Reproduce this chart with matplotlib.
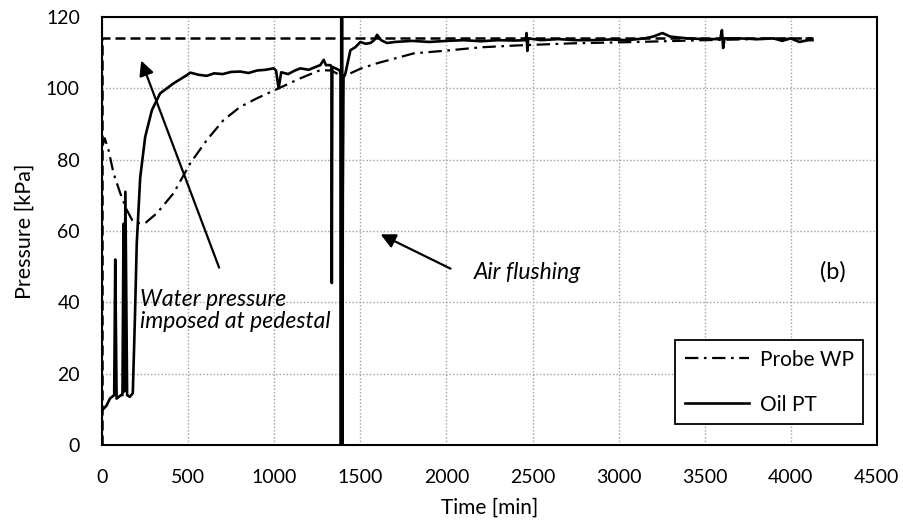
import matplotlib
matplotlib.use("Agg")
import matplotlib.pyplot as plt

plt.rcParams['font.family'] = ['Lato', 'DejaVu Sans']

# Oil pressure transducer (solid line)
oil_t = [5, 25, 45, 70, 76, 84, 110, 118, 124, 128, 135, 145, 160, 178,
         190, 201, 221, 250, 289, 337, 415, 492, 512, 560, 608, 650, 700,
         750, 802, 850, 900, 950, 996, 1010, 1025, 1040, 1080, 1120, 1151,
         1200, 1240, 1267, 1287, 1300, 1326, 1332, 1334, 1337, 1360, 1380,
         1385, 1387, 1389, 1391, 1393, 1395, 1398, 1402, 1412, 1430, 1442,
         1470, 1500, 1530, 1558, 1580, 1597, 1620, 1655, 1700, 1800, 1900,
         2000, 2100, 2200, 2300, 2400, 2460, 2465, 2470, 2475, 2550, 2650,
         2750, 2850, 2950, 3050, 3150, 3200, 3254, 3300, 3400, 3500, 3590,
         3600, 3607, 3615, 3700, 3800, 3900, 3950, 4000, 4050, 4100, 4126]
oil_p = [10, 11, 13, 14, 52, 13, 14, 14, 62, 15, 71, 14, 13.5, 14.5,
         35, 56.5, 75, 86.4, 93.9, 98.6, 101.4, 103.7, 104.4, 103.8, 103.5,
         104.2, 104.0, 104.6, 104.7, 104.3, 105.0, 105.2, 105.6, 105.0, 100,
         104.5, 104.0, 105.0, 105.6, 105.2, 106.0, 106.5, 108, 106.5, 106.5,
         106.0, 45.4, 106.0, 105.5, 105, 104, 0, 130, 0, 130, 0, 70, 103,
         104, 108, 110.7, 111.5, 113, 112.5, 112.7, 113.5, 115, 113.5, 112.7,
         113, 113.3, 113, 113.3, 113.5, 113.2, 113.5, 113.4, 113.5, 115.5,
         110.5, 114, 113.5, 113.8, 113.5, 113.5, 113.7, 113.5, 114, 114.5,
         115.5, 114.5, 114, 113.8, 113.8, 116.3, 111.3, 114, 114, 113.8, 114,
         113.3, 114, 113, 113.5, 113.5]

# Probe water pressure (dash-dot line)
probe_t = [3, 15, 37, 66, 105, 143, 175, 201, 250, 318, 415, 512, 608, 705,
           802, 899, 1025, 1151, 1267, 1330, 1390, 1420, 1500, 1595, 1810,
           1982, 2200, 2400, 2721, 3109, 3500, 3800, 4126]
probe_p = [84, 86, 82.7, 76.2, 70.6, 65.9, 63, 62.2, 62.2, 65, 70.6, 79,
           85.5, 91.1, 94.8, 97.2, 100, 102.8, 105.1, 105, 103.5, 103.7,
           105.5, 107, 109.8, 110.5, 111.5, 112, 112.6, 113, 113.5, 113.8, 114]

# Water pressure imposed at pedestal (dashed line)
imposed_t = [0, 0, 4130]
imposed_p = [0, 114, 114]

fig = plt.figure(figsize=(9.04, 5.31), dpi=100)
ax = fig.add_axes([0.113, 0.162, 0.857, 0.806])

ax.plot(imposed_t, imposed_p, color='black', lw=1.8, dashes=(4, 2), clip_on=False)
ax.plot(probe_t, probe_p, color='black', lw=1.6, dashes=(6, 2.5, 1.2, 2.5), label='Probe WP')
ax.plot(oil_t, oil_p, color='black', lw=1.9, label='Oil PT')

ax.set_xlim(0, 4500)
ax.set_ylim(0, 120)
ax.set_xticks(range(0, 4501, 500))
ax.set_yticks(range(0, 121, 20))
ax.tick_params(length=0, labelsize=14)
ax.tick_params(axis='x', pad=17)
ax.tick_params(axis='y', pad=16)
ax.grid(True, color='#a0a0a0', lw=1, linestyle=(0, (1, 1.5)))
ax.set_axisbelow(True)
for s in ax.spines.values():
    s.set_linewidth(1.5)
    s.set_color('black')

ax.set_xlabel('Time [min]', fontsize=15, labelpad=9)
ax.set_ylabel('Pressure [kPa]', fontsize=15.5, labelpad=8)

ax.annotate('', xy=(221, 108.5), xytext=(685, 49),
            arrowprops=dict(arrowstyle='-|>', mutation_scale=22, lw=1.6, color='black'))
ax.text(221, 37.7, 'Water pressure\nimposed at pedestal', style='italic', fontsize=16.5,
        ha='left', va='center', linespacing=1.05)

ax.annotate('', xy=(1603, 59.4), xytext=(2038, 49.1),
            arrowprops=dict(arrowstyle='-|>', mutation_scale=22, lw=1.6, color='black'))
ax.text(2160, 48.5, 'Air flushing', style='italic', fontsize=16.5, ha='left', va='center')

ax.text(4245, 48.5, '(b)', fontsize=17, ha='center', va='center')

leg = ax.legend(loc='lower right', bbox_to_anchor=(0.982, 0.049), borderaxespad=0,
                fontsize=15, handlelength=3.1, handletextpad=0.5, labelspacing=1.2,
                borderpad=0.45, fancybox=False, framealpha=1, edgecolor='black')
leg.get_frame().set_linewidth(1.3)

fig.savefig('out.png', dpi=100)
